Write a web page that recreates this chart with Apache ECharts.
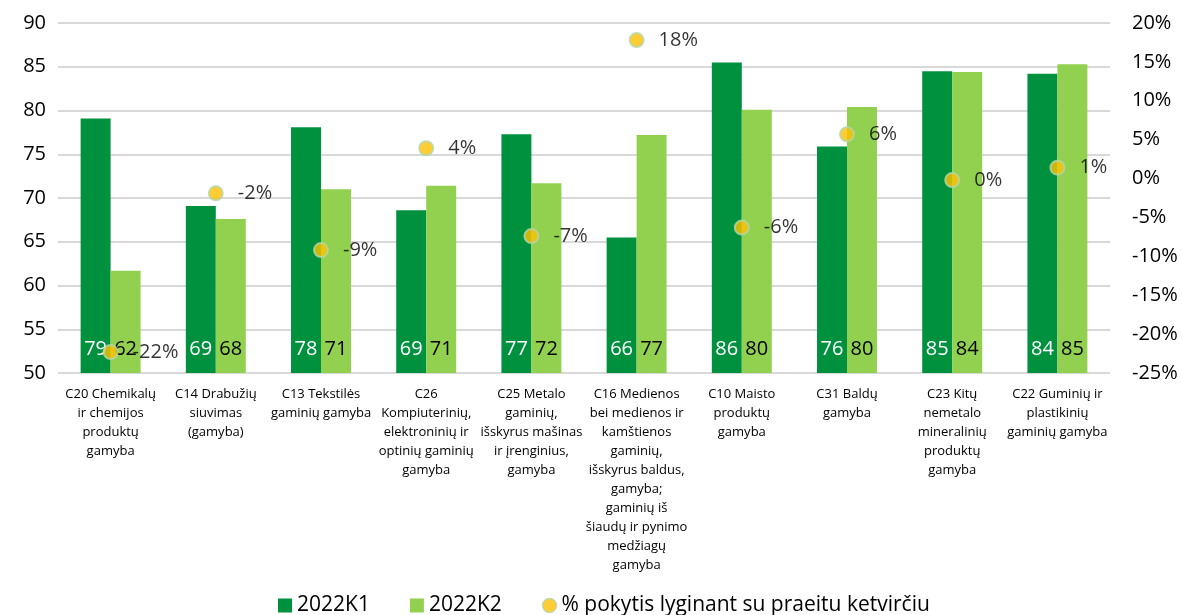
<!DOCTYPE html>
<html>
<head>
<meta charset="utf-8">
<script src="https://cdn.jsdelivr.net/npm/echarts@6/dist/echarts.min.js"></script>
<style>
  html, body { margin: 0; padding: 0; background: #fff; }
  #chart { width: 1182px; height: 615px; }
</style>
</head>
<body>
<div id="chart"></div>
<script>
// kategorijos (x ašis)
const categories = [
  'C20 Chemikalų\nir chemijos\nproduktų\ngamyba',
  'C14 Drabužių\nsiuvimas\n(gamyba)',
  'C13 Tekstilės\ngaminių gamyba',
  'C26\nKompiuterinių,\nelektroninių ir\noptinių gaminių\ngamyba',
  'C25 Metalo\ngaminių,\nišskyrus mašinas\nir įrenginius,\ngamyba',
  'C16 Medienos\nbei medienos ir\nkamštienos\ngaminių,\nišskyrus baldus,\ngamyba;\ngaminių iš\nšiaudų ir pynimo\nmedžiagų\ngamyba',
  'C10 Maisto\nproduktų\ngamyba',
  'C31 Baldų\ngamyba',
  'C23 Kitų\nnemetalo\nmineralinių\nproduktų\ngamyba',
  'C22 Guminių ir\nplastikinių\ngaminių gamyba'
]
const k1 = [79.1, 69.1, 78.1, 68.6, 77.3, 65.5, 85.5, 75.9, 84.5, 84.2]
const k2 = [61.7, 67.6, 71.0, 71.4, 71.7, 77.2, 80.1, 80.4, 84.4, 85.3]
// % pokytis
const change = [-22.3, -1.9, -9.2, 3.9, -7.4, 17.8, -6.3, 5.7, -0.2, 1.4]

const font = 'Open Sans'
const chart = echarts.init(document.getElementById('chart'))

const option = {
  textStyle: { fontFamily: font },
  animation: false,
  legend: {
    top: 590,
    left: 273,
    itemGap: 40,
    itemWidth: 14,
    itemHeight: 14,
    textStyle: { fontSize: 21, color: '#000', fontFamily: font },
    data: [
      { name: '2022K1', icon: 'rect' },
      { name: '2022K2', icon: 'rect' },
      { name: '% pokytis lyginant su praeitu ketvirčiu', icon: 'circle', itemStyle: { borderWidth: 1.5 } }
    ]
  },
  grid: { left: 58, right: 72, top: 23, bottom: 242 },
  xAxis: {
    type: 'category',
    data: categories,
    axisTick: { show: false },
    axisLine: { show: false },
    axisLabel: {
      interval: 0,
      fontSize: 13,
      lineHeight: 19,
      color: '#000',
      margin: 12,
      fontFamily: font
    }
  },
  yAxis: [
    {
      type: 'value',
      min: 50,
      max: 90,
      interval: 5,
      axisLabel: { fontSize: 20, color: '#000', margin: 12, fontFamily: font },
      splitLine: { lineStyle: { color: '#d9d9d9', width: 2 } }
    },
    {
      type: 'value',
      min: -25,
      max: 20,
      interval: 5,
      position: 'right',
      splitLine: { show: false },
      axisLabel: {
        fontSize: 20,
        color: '#000',
        margin: 22,
        fontFamily: font,
        formatter: v => v + '%'
      }
    }
  ],
  series: [
    {
      name: '2022K1',
      type: 'bar',
      barGap: 0,
      barCategoryGap: '43%',
      itemStyle: { color: '#00913f' },
      label: {
        show: true,
        position: 'insideBottom',
        distance: 14,
        fontSize: 20,
        color: '#fff',
        fontFamily: font,
        formatter: p => Math.round(p.value)
      },
      data: k1
    },
    {
      name: '2022K2',
      type: 'bar',
      itemStyle: { color: '#92d050' },
      label: {
        show: true,
        position: 'insideBottom',
        distance: 14,
        fontSize: 20,
        color: '#000',
        fontFamily: font,
        formatter: p => Math.round(p.value)
      },
      data: k2
    },
    {
      name: '% pokytis lyginant su praeitu ketvirčiu',
      type: 'scatter',
      yAxisIndex: 1,
      symbol: 'circle',
      symbolSize: 14,
      itemStyle: { color: '#ffc000', borderColor: '#b5d6a7', borderWidth: 2 },
      label: {
        show: true,
        position: 'right',
        distance: 14,
        fontSize: 20,
        color: '#000',
        fontFamily: font,
        formatter: p => Math.round(p.value) + '%'
      },
      z: 5,
      data: change
    }
  ]
}
chart.setOption(option)
</script>
</body>
</html>
